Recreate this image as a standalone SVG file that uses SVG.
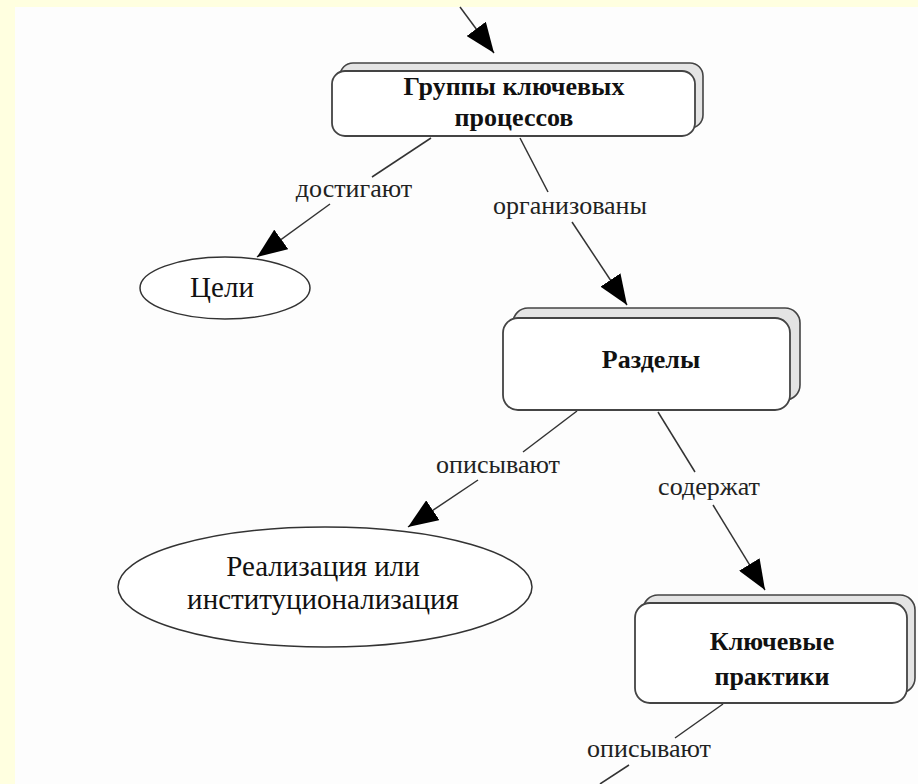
<svg xmlns="http://www.w3.org/2000/svg" width="918" height="784" viewBox="0 0 918 784">
<style>
.back{fill:#e4e4e4;stroke:#444;stroke-width:1.6}
.front{fill:#fff;stroke:#444;stroke-width:1.8}
.ell{fill:#fff;stroke:#333;stroke-width:1.5}
.bt{font-family:"Liberation Serif","Times New Roman",serif;font-weight:bold;font-size:26px;fill:#111;text-anchor:middle}
.nt{font-family:"Liberation Serif","Times New Roman",serif;font-size:29px;fill:#111;text-anchor:middle}
.lt{font-family:"Liberation Serif","Times New Roman",serif;font-size:26px;fill:#222;text-anchor:middle}
.ln{stroke:#333;stroke-width:1.5;fill:none}
</style>
<defs>
<marker id="ah" viewBox="0 0 30 24" refX="30" refY="12" markerWidth="30" markerHeight="24" markerUnits="userSpaceOnUse" orient="auto">
<path d="M0,0 L30,12 L0,24 z" fill="#000"/>
</marker>
</defs>
<rect x="0" y="0" width="918" height="784" fill="#fdfdfd"/>
<rect x="0" y="0" width="918" height="7" fill="#ffffe0"/>
<rect x="0" y="0" width="15" height="784" fill="#ffffe0"/>

<g id="connectors">
<line class="ln" x1="460" y1="7" x2="494" y2="53" marker-end="url(#ah)"/>
<line class="ln" x1="431" y1="138" x2="372" y2="177"/>
<text class="lt" x="354" y="197">достигают</text>
<line class="ln" x1="330" y1="204" x2="257" y2="257" marker-end="url(#ah)"/>
<line class="ln" x1="520" y1="138" x2="548" y2="192"/>
<text class="lt" x="570" y="214">организованы</text>
<line class="ln" x1="572" y1="222" x2="627" y2="305" marker-end="url(#ah)"/>
<line class="ln" x1="577" y1="411" x2="523" y2="452"/>
<text class="lt" x="498" y="473">описывают</text>
<line class="ln" x1="478" y1="480" x2="408" y2="527" marker-end="url(#ah)"/>
<line class="ln" x1="658" y1="412" x2="695" y2="472"/>
<text class="lt" x="709" y="495">содержат</text>
<line class="ln" x1="713" y1="505" x2="765" y2="590" marker-end="url(#ah)"/>
<line class="ln" x1="723" y1="704" x2="675" y2="738"/>
<text class="lt" x="649" y="757">описывают</text>
<line class="ln" x1="629" y1="765" x2="600" y2="784"/>
</g>

<g id="node-groups">
<rect class="back" x="340" y="63" width="363" height="65" rx="13"/>
<rect class="front" x="332" y="71" width="363" height="65" rx="13"/>
<text class="bt" x="514" y="95">Группы ключевых</text>
<text class="bt" x="514" y="126">процессов</text>
</g>

<g id="node-goals">
<ellipse class="ell" cx="225" cy="288" rx="85" ry="31"/>
<text class="nt" x="222" y="297">Цели</text>
</g>

<g id="node-sections">
<rect class="back" x="513" y="308" width="287" height="92" rx="15"/>
<rect class="front" x="503" y="318" width="287" height="92" rx="15"/>
<text class="bt" x="651" y="368">Разделы</text>
</g>

<g id="node-impl">
<ellipse class="ell" cx="325" cy="587" rx="207" ry="60"/>
<text class="nt" x="323" y="576">Реализация или</text>
<text class="nt" x="323" y="609">институционализация</text>
</g>

<g id="node-practices">
<rect class="back" x="643" y="595" width="272" height="98" rx="15"/>
<rect class="front" x="635" y="603" width="272" height="100" rx="15"/>
<text class="bt" x="772" y="650">Ключевые</text>
<text class="bt" x="772" y="685">практики</text>
</g>
</svg>
